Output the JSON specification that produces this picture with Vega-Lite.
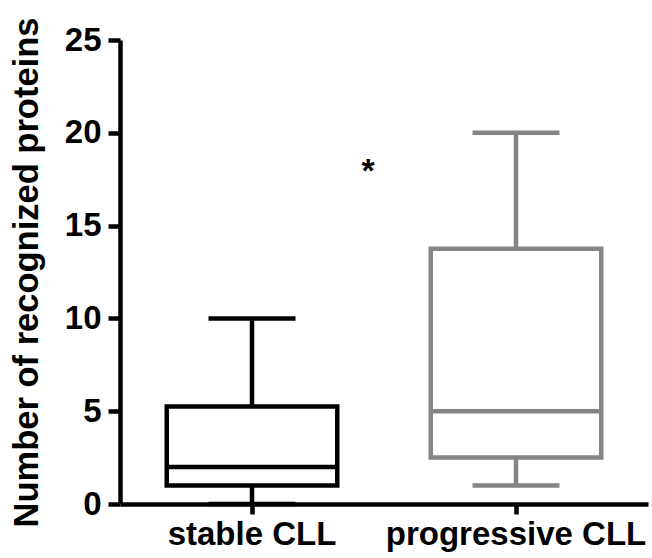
{
  "$schema": "https://vega.github.io/schema/vega-lite/v6.json",
  "autosize": "none",
  "width": 528,
  "height": 464,
  "padding": {"left": 120, "top": 40, "right": 4, "bottom": 54},
  "background": "white",
  "config": {
    "view": {"stroke": null},
    "font": "Liberation Sans",
    "axis": {
      "domainColor": "black", "domainWidth": 4.5, "tickColor": "black", "tickWidth": 4.5,
      "labelColor": "black", "labelFont": "Liberation Sans", "labelFontWeight": "bold",
      "titleFont": "Liberation Sans", "titleFontWeight": "bold", "titleColor": "black", "grid": false, "labelLimit": 0
    }
  },
  "datasets": {
    "stats": [
      {"group": "stable CLL", "min": 0, "q1": 1, "median": 2, "q3": 5.25, "max": 10},
      {"group": "progressive CLL", "min": 1, "q1": 2.5, "median": 5, "q3": 13.75, "max": 20}
    ],
    "sig": [{"group": "stable CLL", "y": 18.8, "label": "*"}]
  },
  "encoding": {
    "x": {
      "field": "group", "type": "nominal", "sort": ["stable CLL", "progressive CLL"],
      "scale": {"paddingInner": 0, "paddingOuter": 0},
      "axis": {"title": null, "labelAngle": 0, "labelFontSize": 33, "tickSize": 10, "labelPadding": 4}
    }
  },
  "layer": [
    {
      "data": {"name": "stats"},
      "mark": {"type": "rule", "strokeWidth": 4.5},
      "encoding": {
        "y": {"field": "min", "type": "quantitative", "scale": {"domain": [0, 25], "nice": false, "zero": true},
          "axis": {"title": "Number of recognized proteins", "values": [0, 5, 10, 15, 20, 25], "labelFontSize": 33, "titleFontSize": 34.5, "tickSize": 12, "labelPadding": 7, "titlePadding": 20}},
        "y2": {"field": "max"},
        "color": {"field": "group", "type": "nominal", "scale": {"domain": ["stable CLL", "progressive CLL"], "range": ["#000000", "#858585"]}, "legend": null}
      }
    },
    {
      "data": {"name": "stats"},
      "mark": {"type": "bar", "width": 170.5, "fill": "white", "strokeWidth": 4.5},
      "encoding": {
        "y": {"field": "q1", "type": "quantitative"},
        "y2": {"field": "q3"},
        "stroke": {"field": "group", "type": "nominal", "scale": {"domain": ["stable CLL", "progressive CLL"], "range": ["#000000", "#858585"]}, "legend": null}
      }
    },
    {
      "data": {"name": "stats"},
      "mark": {"type": "tick", "size": 170.5, "thickness": 4.5, "opacity": 1},
      "encoding": {
        "y": {"field": "median", "type": "quantitative"},
        "color": {"field": "group", "type": "nominal", "legend": null}
      }
    },
    {
      "data": {"name": "stats"},
      "mark": {"type": "tick", "size": 87, "thickness": 4.5, "opacity": 1},
      "encoding": {
        "y": {"field": "max", "type": "quantitative"},
        "color": {"field": "group", "type": "nominal", "legend": null}
      }
    },
    {
      "data": {"name": "stats"},
      "mark": {"type": "tick", "size": 87, "thickness": 4.5, "opacity": 1},
      "encoding": {
        "y": {"field": "min", "type": "quantitative"},
        "color": {"field": "group", "type": "nominal", "legend": null}
      }
    },
    {
      "data": {"name": "sig"},
      "mark": {"type": "text", "fontSize": 34, "fontWeight": "bold", "baseline": "top", "align": "center", "color": "black"},
      "encoding": {
        "x": {"field": "group", "type": "nominal", "bandPosition": 0.94},
        "y": {"field": "y", "type": "quantitative"},
        "text": {"field": "label"}
      }
    }
  ]
}
